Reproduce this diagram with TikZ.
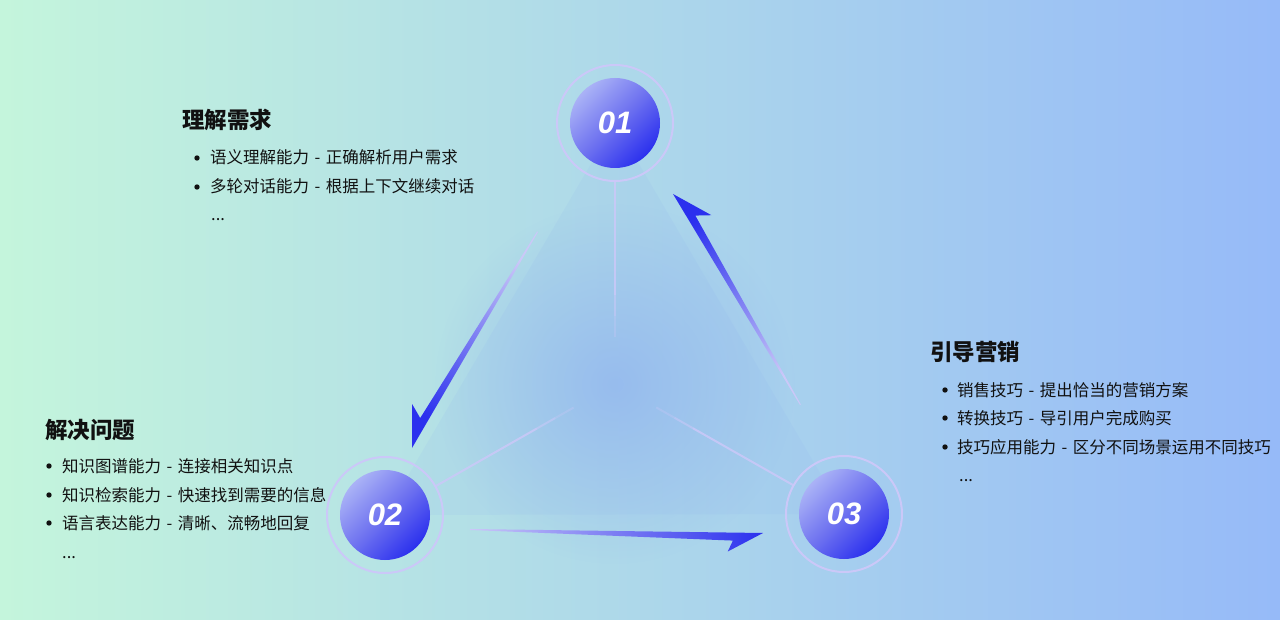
\documentclass[tikz,border=0pt]{standalone}
\usepackage{fontspec}
\setmainfont{Noto Sans CJK SC}
\newfontfamily\numfont{Liberation Sans}
\usetikzlibrary{calc,fadings}
\definecolor{bgL}{HTML}{C4F5DC}
\definecolor{bgM}{HTML}{B0DDE8}
\definecolor{bgR}{HTML}{96BAF8}
\definecolor{lav}{HTML}{CBC8F8}
\definecolor{deep}{HTML}{2B30EE}
\definecolor{soft}{HTML}{AAB2F6}
\definecolor{midb}{HTML}{6E72F0}
\definecolor{glowc}{HTML}{8FB2F0}
\definecolor{txt}{HTML}{111111}
\newcommand{\dsep}{\hspace{5.5pt}-\hspace{5.5pt}}
\tikzfading[name=glowfade, inner color=transparent!30, outer color=transparent!100]
\tikzset{
  numcircle/.style={circle, minimum size=90, inner sep=0, top color=soft, bottom color=deep, middle color=midb, shading angle=45,
    font=\numfont\bfseries\itshape\fontsize{31}{31}\selectfont, text=white},
  ring/.style={draw=lav, line width=2},
  link/.style={draw=lav, line width=2},
  title/.style={anchor=base west, inner sep=0, font=\bfseries\fontsize{22.5}{26}\selectfont, text=txt},
  item/.style={anchor=base west, inner sep=0, font=\fontsize{16.5}{19}\selectfont, text=txt},
  dot/.style={fill=txt}
}
\begin{document}
\begin{tikzpicture}[x=1pt,y=-1pt]
\useasboundingbox (0,0) rectangle (1280,620);
\shade[left color=bgL, middle color=bgM, right color=bgR] (0,0) rectangle (1280,620);

% centres
\coordinate (p1) at (615,123);
\coordinate (p2) at (385,515);
\coordinate (p3) at (844,514);
\coordinate (g) at (615,384);

% faint triangle and glow
\fill[glowc, opacity=0.12] (p1) -- (p2) -- (p3) -- cycle;
\fill[glowc, path fading=glowfade] (g) circle (180);

% links to centre
\foreach \p in {p1,p2,p3}{
  \draw[link, opacity=0.85] ($(\p)!58pt!(g)$) -- ($(\p)!0.66!(g)$);
  \draw[link, opacity=0.55] ($(\p)!0.66!(g)$) -- ($(\p)!0.74!(g)$);
  \draw[link, opacity=0.3] ($(\p)!0.74!(g)$) -- ($(\p)!0.82!(g)$);
}

% arrow 01 -> 02
\coordinate (ls) at (538,232);
\coordinate (lt) at (412,448);
\coordinate (lb) at ($(lt)!38pt!(ls)$);
\coordinate (ln) at ($(lt)!30pt!(ls)$);
\shade[bottom color=lav, top color=deep, shading angle=150]
  (ls) -- (lt) -- ($(lb)!22pt!-90:(lt)$) -- ($(ln)!8pt!-90:(lt)$) -- ($(ls)!1pt!-90:(lt)$) -- cycle;

% arrow 02 -> 03
\coordinate (bs) at (470,529);
\coordinate (bt) at (763,533);
\coordinate (bb) at ($(bt)!35pt!(bs)$);
\coordinate (bn) at ($(bt)!30pt!(bs)$);
\shade[bottom color=lav, top color=deep, shading angle=-90]
  (bs) -- (bt) -- ($(bb)!19pt!-90:(bt)$) -- ($(bn)!8pt!-90:(bt)$) -- ($(bs)!1pt!-90:(bt)$) -- cycle;

% arrow 03 -> 01
\coordinate (rs) at (800,405);
\coordinate (rt) at (673,194);
\coordinate (rb) at ($(rt)!38pt!(rs)$);
\coordinate (rn) at ($(rt)!30pt!(rs)$);
\shade[bottom color=lav, top color=deep, shading angle=32]
  (rs) -- (rt) -- ($(rb)!22pt!-90:(rt)$) -- ($(rn)!8pt!-90:(rt)$) -- ($(rs)!1pt!-90:(rt)$) -- cycle;

% rings and circles
\draw[ring] (p1) circle (58);
\draw[ring] (p2) circle (58);
\draw[ring] (p3) circle (58);
\node[numcircle] (c1) at (p1) {01};
\node[numcircle] (c2) at (p2) {02};
\node[numcircle] (c3) at (p3) {03};

% text block 1
\node[title] (t1) at (182,129) {理解需求};
\fill[dot] (197,158) circle (2.7);
\node[item] (a1) at (210,164) {语义理解能力\dsep 正确解析用户需求};
\fill[dot] (197,187) circle (2.7);
\node[item] (a2) at (210,193) {多轮对话能力\dsep 根据上下文继续对话};
\node[item] (a3) at (211,221) {...};

% text block 2
\node[title] (t2) at (45,438) {解决问题};
\fill[dot] (49,466) circle (2.7);
\node[item] (b1) at (62,472) {知识图谱能力\dsep 连接相关知识点};
\fill[dot] (49,495) circle (2.7);
\node[item] (b2) at (62,501) {知识检索能力\dsep 快速找到需要的信息};
\fill[dot] (49,523) circle (2.7);
\node[item] (b3) at (62,529) {语言表达能力\dsep 清晰、流畅地回复};
\node[item] (b4) at (62,558) {...};

% text block 3
\node[title] (t3) at (930,360) {引导营销};
\fill[dot] (945,390) circle (2.7);
\node[item] (d1) at (957,396) {销售技巧\dsep 提出恰当的营销方案};
\fill[dot] (945,418) circle (2.7);
\node[item] (d2) at (957,424) {转换技巧\dsep 导引用户完成购买};
\fill[dot] (945,447) circle (2.7);
\node[item] (d3) at (957,453) {技巧应用能力\dsep 区分不同场景运用不同技巧};
\node[item] (d4) at (959,481) {...};
\end{tikzpicture}
\end{document}
